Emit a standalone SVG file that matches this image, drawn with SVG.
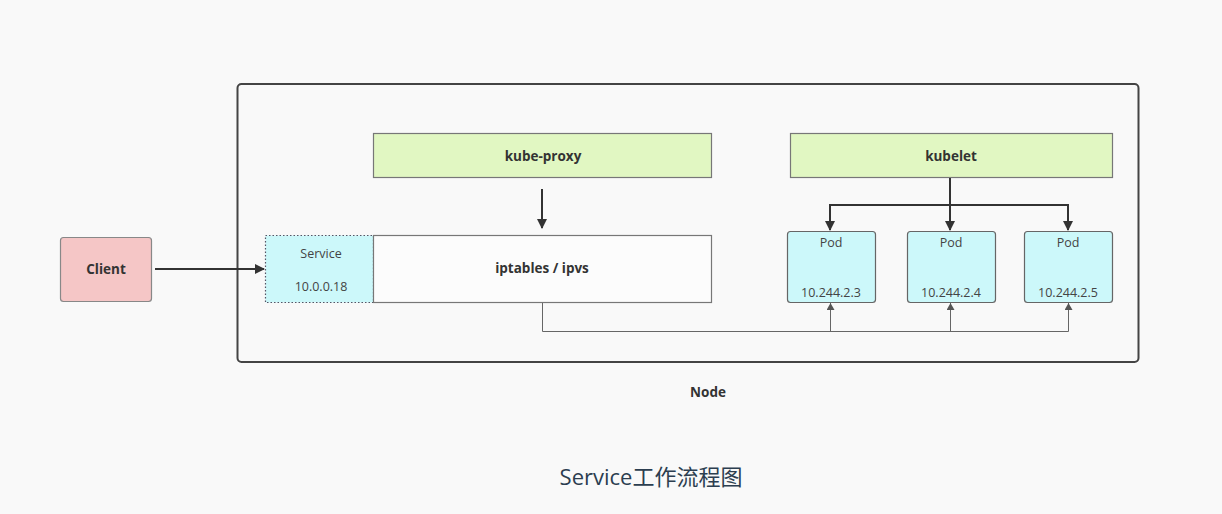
<svg xmlns="http://www.w3.org/2000/svg" width="1222" height="514" viewBox="0 0 1222 514">
<defs>
<style>
text{font-family:"Open Sans","Noto Sans","Noto Sans CJK SC",sans-serif;fill:#333}
.b{font-weight:bold;font-size:13.5px}
.n{font-size:12.5px;fill:#444}
.green{fill:#e1f7c2;stroke:#777;stroke-width:1.2}
.pod{fill:#ccf8fa;stroke:#666;stroke-width:1.2}
.thick{stroke:#333;stroke-width:2;fill:none}
.thin{stroke:#666;stroke-width:1;fill:none}
</style>
<marker id="ah" markerWidth="10" markerHeight="10" refX="9" refY="5" orient="auto" markerUnits="userSpaceOnUse">
<path d="M0,0 L10,5 L0,10 Z" fill="#333"/>
</marker>
<marker id="as" markerWidth="7" markerHeight="8" refX="7" refY="4" orient="auto" markerUnits="userSpaceOnUse">
<path d="M0,0 L7,4 L0,8 Z" fill="#555"/>
</marker>
</defs>
<rect width="1222" height="514" fill="#f9f9f9"/>
<g id="node">
<rect x="237.5" y="84" width="901" height="278" rx="4" fill="#f9f9f9" stroke="#444" stroke-width="2"/>
<text class="b" x="708" y="397" text-anchor="middle">Node</text>
</g>
<g id="client">
<rect x="60.5" y="237.5" width="91" height="64" rx="3" fill="#f5c6c6" stroke="#888" stroke-width="1.2"/>
<text class="b" x="106" y="274" text-anchor="middle" font-size="12.5">Client</text>
</g>
<g id="kube-proxy">
<rect class="green" x="373.5" y="133.5" width="338" height="44"/>
<text class="b" x="543" y="161" text-anchor="middle" font-size="14.5">kube-proxy</text>
</g>
<g id="kubelet">
<rect class="green" x="790.5" y="133.5" width="322" height="44"/>
<text class="b" x="951" y="161" text-anchor="middle" font-size="14.5">kubelet</text>
</g>
<g id="service">
<rect x="265.5" y="235.5" width="108" height="67" fill="#ccf8fa" stroke="#556" stroke-width="1.2" stroke-dasharray="1.5,2"/>
<text class="n" x="321" y="258" text-anchor="middle">Service</text>
<text class="n" x="321" y="291" text-anchor="middle">10.0.0.18</text>
</g>
<g id="iptables">
<rect x="373.5" y="235.5" width="338" height="67" fill="#fcfcfc" stroke="#777" stroke-width="1.2"/>
<text class="b" x="542" y="273" text-anchor="middle" font-size="14">iptables / ipvs</text>
</g>
<g id="pod1">
<rect class="pod" x="787.5" y="231.5" width="88" height="71" rx="3"/>
<text class="n" x="831" y="247" text-anchor="middle">Pod</text>
<text class="n" x="831" y="297" text-anchor="middle">10.244.2.3</text>
</g>
<g id="pod2">
<rect class="pod" x="907.5" y="231.5" width="88" height="71" rx="3"/>
<text class="n" x="951" y="247" text-anchor="middle">Pod</text>
<text class="n" x="951" y="297" text-anchor="middle">10.244.2.4</text>
</g>
<g id="pod3">
<rect class="pod" x="1024.5" y="231.5" width="88" height="71" rx="3"/>
<text class="n" x="1068" y="247" text-anchor="middle">Pod</text>
<text class="n" x="1068" y="297" text-anchor="middle">10.244.2.5</text>
</g>
<g id="connectors">
<line class="thick" x1="155" y1="269" x2="264" y2="269" marker-end="url(#ah)"/>
<line class="thick" x1="542" y1="189" x2="542" y2="228" marker-end="url(#ah)"/>
<path class="thick" d="M950,178 V205"/>
<path class="thick" d="M950,205 H830 V230" marker-end="url(#ah)"/>
<path class="thick" d="M950,205 V230" marker-end="url(#ah)"/>
<path class="thick" d="M950,205 H1068 V230" marker-end="url(#ah)"/>
<path class="thin" d="M542.5,303 V331.5 H1068.5"/>
<path class="thin" d="M830.5,331.5 V303" marker-end="url(#as)"/>
<path class="thin" d="M950.5,331.5 V303" marker-end="url(#as)"/>
<path class="thin" d="M1068.5,331.5 V303" marker-end="url(#as)"/>
</g>
<g id="caption">
<text x="651" y="485" text-anchor="middle" font-size="22" style="fill:#2c3e50">Service工作流程图</text>
</g>
</svg>
